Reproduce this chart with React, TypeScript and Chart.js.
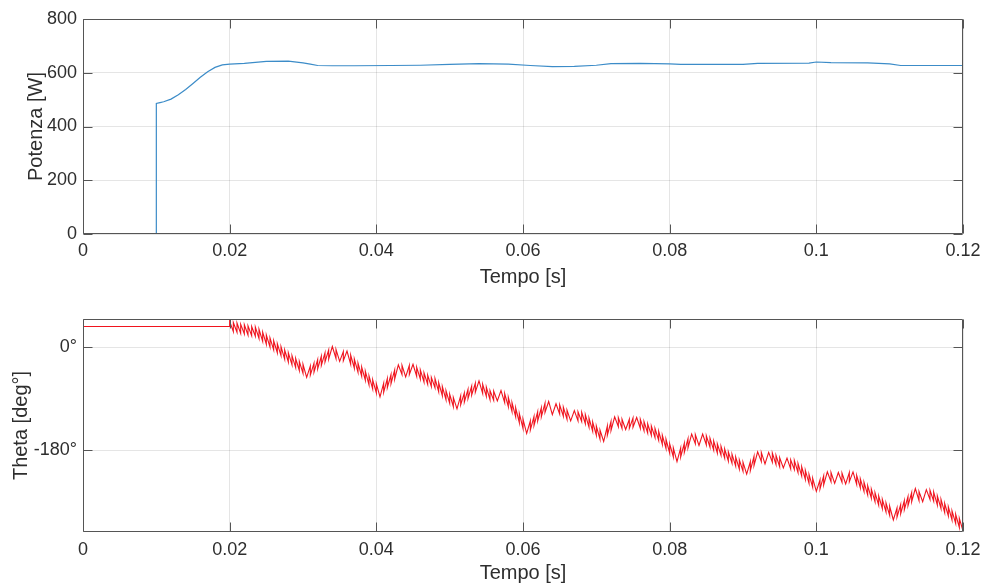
import { useEffect, useRef } from "react";
import { Chart, registerables } from "chart.js";

Chart.register(...registerables);

// ---- Potenza (W) over Tempo (s) ----
const POWER_TIME_S = [
  0, 0.01, 0.01, 0.0105, 0.011, 0.012, 0.013, 0.014, 0.015, 0.016, 0.017, 0.018, 0.019,
  0.02, 0.022, 0.025, 0.028, 0.03, 0.031, 0.032, 0.034, 0.037, 0.042, 0.046, 0.05, 0.054,
  0.058, 0.061, 0.064, 0.067, 0.07, 0.072, 0.076, 0.08, 0.0815, 0.09, 0.092, 0.099, 0.1,
  0.102, 0.107, 0.11, 0.1115, 0.12,
];
const POWER_W = [
  0, 0, 486, 489, 492, 502, 518, 538, 560, 583, 604, 620, 629,
  632, 635, 642, 643, 637, 632, 627, 626, 626, 627, 628, 631, 634,
  632, 627, 623, 624, 628, 634, 635, 633, 631, 631, 635, 636, 640,
  638, 637, 633, 627, 627,
];

// ---- Theta (deg): held value, then one controller sample every step ----
const THETA_HOLD_DEG = 36;
const THETA_START_S = 0.02;
const THETA_STEP_S = 0.0005;
const THETA_RIPPLE_DEG = 8;
const THETA_DEG = [
  37, 35, 34, 32, 31, 29, 28, 27, 23, 18,
  13, 8, 3, -2, -7, -13, -18, -23, -28, -33,
  -38, -45, -41, -36, -30, -24, -18, -13, -7, -12,
  -17, -16, -15, -22, -29, -36, -43, -50, -58, -65,
  -72, -79, -71, -63, -56, -48, -39, -40, -44, -40,
  -38, -43, -48, -53, -57, -61, -63, -70, -77, -84,
  -90, -96, -100, -93, -88, -82, -76, -71, -67, -73,
  -78, -84, -85, -86, -84, -89, -96, -105, -114, -124,
  -134, -143, -137, -129, -121, -114, -106, -103, -110, -107,
  -109, -113, -118, -121, -119, -121, -122, -126, -132, -139,
  -146, -153, -157, -146, -138, -130, -131, -134, -136, -134,
  -132, -131, -134, -138, -142, -146, -150, -155, -162, -169,
  -177, -184, -192, -184, -176, -168, -160, -161, -164, -160,
  -163, -167, -172, -177, -181, -186, -191, -195, -200, -205,
  -209, -214, -208, -199, -191, -192, -196, -192, -193, -197,
  -201, -203, -202, -205, -206, -211, -217, -223, -230, -237,
  -244, -240, -233, -226, -227, -230, -227, -228, -231, -227,
  -226, -232, -238, -244, -250, -256, -262, -268, -274, -280,
  -286, -294, -289, -283, -276, -269, -262, -255, -260, -262,
  -257, -258, -261, -268, -274, -281, -287, -294, -300, -307,
  -313,
];

// ---- Axes ----
const TIME_TICKS = [0, 0.02, 0.04, 0.06, 0.08, 0.1, 0.12];
const POWER_TICKS = [0, 200, 400, 600, 800];
const THETA_TICKS = [-180, 0];
const THETA_MIN = -323;
const THETA_MAX = 49;

const FONT = "'Liberation Sans', Arial, Helvetica, sans-serif";
const TEXT_COLOR = "#2e2e2e";
const AXIS_COLOR = "#555555";
const GRID_COLOR = "rgba(38,38,38,0.12)";
const TICK_LEN = 9;

// Build the sampled theta trace: each sample shows a vertical jump against the
// local trend followed by a ramp towards the next sample.
function buildThetaPoints() {
  const pts: { x: number; y: number }[] = [
    { x: 0, y: THETA_HOLD_DEG },
    { x: THETA_START_S, y: THETA_HOLD_DEG },
  ];
  const dir = (a: number, b: number) => (b > a ? 1 : -1);
  const r = THETA_RIPPLE_DEG;
  THETA_DEG.forEach((v, i) => {
    const t = THETA_START_S + i * THETA_STEP_S;
    if (i > 0) {
      const inDir = dir(THETA_DEG[i - 1], v);
      pts.push({ x: t, y: inDir < 0 ? v - r : v + r });
    }
    if (i < THETA_DEG.length - 1) {
      const outDir = dir(v, THETA_DEG[i + 1]);
      pts.push({ x: t, y: outDir < 0 ? v + r : v - r });
    }
  });
  return pts;
}

const axesBox = {
  id: "axesBox",
  afterDatasetsDraw(chart: any) {
    const { ctx, chartArea: a, scales } = chart;
    const L = Math.round(a.left) + 0.5;
    const R = Math.round(a.right) - 0.5;
    const T = Math.round(a.top) + 0.5;
    const B = Math.round(a.bottom) - 0.5;
    ctx.save();
    ctx.strokeStyle = AXIS_COLOR;
    ctx.lineWidth = 1;
    ctx.beginPath();
    ctx.rect(L, T, R - L, B - T);
    scales.x.ticks.forEach((tk: any) => {
      const px = Math.round(scales.x.getPixelForValue(tk.value)) + 0.5;
      ctx.moveTo(px, B);
      ctx.lineTo(px, B - TICK_LEN);
      ctx.moveTo(px, T);
      ctx.lineTo(px, T + TICK_LEN);
    });
    scales.y.ticks.forEach((tk: any) => {
      const py = Math.round(scales.y.getPixelForValue(tk.value)) + 0.5;
      ctx.moveTo(L, py);
      ctx.lineTo(L + TICK_LEN, py);
      ctx.moveTo(R, py);
      ctx.lineTo(R - TICK_LEN, py);
    });
    ctx.stroke();
    ctx.restore();
  },
};

function timeAxis(xHeight: number, titleBottom: number, tickPad: number) {
  return {
    type: "linear" as const,
    min: 0,
    max: 0.12,
    afterBuildTicks: (s: any) => {
      s.ticks = TIME_TICKS.map((v) => ({ value: v }));
    },
    afterFit: (s: any) => {
      s.height = xHeight;
      s.paddingLeft = 0;
      s.paddingRight = 0;
    },
    ticks: {
      autoSkip: false,
      maxRotation: 0,
      padding: tickPad,
      color: TEXT_COLOR,
      font: { family: FONT, size: 18 },
      callback: (v: any) => String(+Number(v).toFixed(4)),
    },
    grid: { color: GRID_COLOR, drawTicks: false, lineWidth: 1 },
    border: { display: false },
    title: {
      display: true,
      text: "Tempo [s]",
      color: TEXT_COLOR,
      font: { family: FONT, size: 20 },
      padding: { top: 0, bottom: titleBottom },
    },
  };
}

function valueAxis(
  min: number,
  max: number,
  ticks: number[],
  title: string,
  titleTop: number,
  fmt: (v: number) => string
) {
  return {
    min,
    max,
    afterBuildTicks: (s: any) => {
      s.ticks = ticks.map((v) => ({ value: v }));
    },
    afterFit: (s: any) => {
      s.width = 83;
      s.paddingTop = 0;
      s.paddingBottom = 0;
    },
    ticks: {
      padding: 6,
      color: TEXT_COLOR,
      font: { family: FONT, size: 18 },
      callback: (v: any) => fmt(Number(v)),
    },
    grid: { color: GRID_COLOR, drawTicks: false },
    border: { display: false },
    title: {
      display: true,
      text: title,
      color: TEXT_COLOR,
      font: { family: FONT, size: 20 },
      padding: { top: titleTop, bottom: 0 },
    },
  };
}

export default function App() {
  const topRef = useRef<HTMLCanvasElement>(null);
  const botRef = useRef<HTMLCanvasElement>(null);

  useEffect(() => {
    const top = new Chart(topRef.current!, {
      type: "line",
      data: {
        datasets: [
          {
            data: POWER_TIME_S.map((t, i) => ({ x: t, y: POWER_W[i] })),
            borderColor: "rgb(60,140,200)",
            borderWidth: 1.2,
            pointRadius: 0,
            tension: 0,
            fill: false,
          },
        ],
      },
      options: {
        animation: false,
        responsive: false,
        devicePixelRatio: 1,
        layout: { padding: { left: 0, right: 20, top: 19, bottom: 0 } },
        plugins: { legend: { display: false }, tooltip: { enabled: false } },
        scales: {
          x: timeAxis(59, 4, 6),
          y: valueAxis(0, 800, POWER_TICKS, "Potenza [W]", 24, (v) => String(v)),
        },
      },
      plugins: [axesBox],
    });

    const bot = new Chart(botRef.current!, {
      type: "line",
      data: {
        datasets: [
          {
            data: buildThetaPoints(),
            borderColor: "rgb(240,20,30)",
            borderWidth: 1.1,
            pointRadius: 0,
            tension: 0,
            fill: false,
          },
        ],
      },
      options: {
        animation: false,
        responsive: false,
        devicePixelRatio: 1,
        layout: { padding: { left: 0, right: 20, top: 26, bottom: 0 } },
        plugins: { legend: { display: false }, tooltip: { enabled: false } },
        scales: {
          x: timeAxis(54, 1, 7),
          y: valueAxis(THETA_MIN, THETA_MAX, THETA_TICKS, "Theta [deg°]", 9, (v) => `${v}°`),
        },
      },
      plugins: [axesBox],
    });

    return () => {
      top.destroy();
      bot.destroy();
    };
  }, []);

  return (
    <div style={{ position: "absolute", left: 0, top: 0, width: 983, height: 586, background: "#fff" }}>
      <canvas
        ref={topRef}
        width={983}
        height={293}
        style={{ position: "absolute", left: 0, top: 0, display: "block" }}
      />
      <canvas
        ref={botRef}
        width={983}
        height={293}
        style={{ position: "absolute", left: 0, top: 293, display: "block" }}
      />
    </div>
  );
}
